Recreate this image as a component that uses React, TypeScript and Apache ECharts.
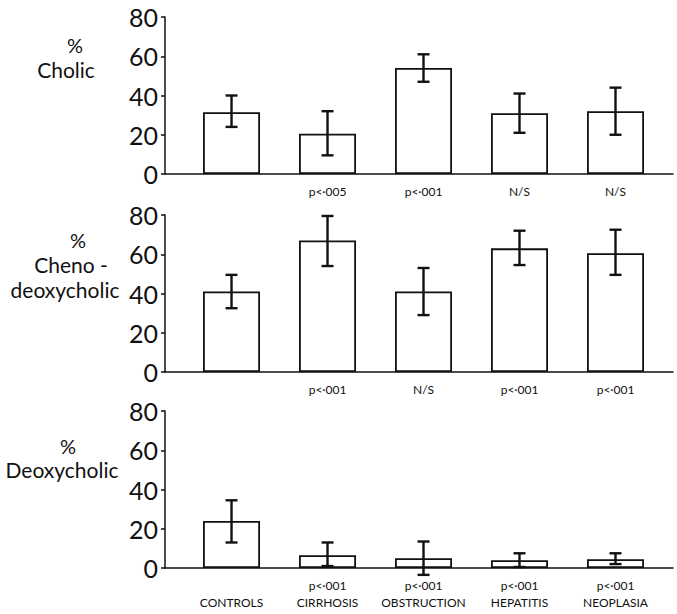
import React, { useEffect, useRef } from "react";
import * as echarts from "echarts";

const categories = ["CONTROLS", "CIRRHOSIS", "OBSTRUCTION", "HEPATITIS", "NEOPLASIA"];
const yTicks = [0, 20, 40, 60, 80];

const cholicMean = [31.5, 20.5, 54, 31, 32];
const cholicLow = [24, 9.5, 47, 21, 20];
const cholicHigh = [40, 32, 61, 41, 44];
const cholicP = ["", "p<·005", "p<·001", "N/S", "N/S"];

const chenoMean = [41, 67, 41, 63, 60.5];
const chenoLow = [32.5, 54, 29, 54.5, 49.5];
const chenoHigh = [49.5, 79.5, 53, 72, 72.5];
const chenoP = ["", "p<·001", "N/S", "p<·001", "p<·001"];

const deoxyMean = [24, 6.5, 5, 4, 4.5];
const deoxyLow = [13, 1, -3.5, 0.5, 2];
const deoxyHigh = [34.5, 13, 13.5, 7.5, 7.5];
const deoxyP = ["", "p<·001", "p<·001", "p<·001", "p<·001"];

const FONT = "Lato";

export default function App() {
  const ref = useRef<HTMLDivElement>(null);
  useEffect(() => {
    if (!ref.current) return;
    const chart = echarts.init(ref.current, null, { renderer: "svg" });

    const panels = [
      { mean: cholicMean, low: cholicLow, high: cholicHigh, p: cholicP, top: 17, withCat: false },
      { mean: chenoMean, low: chenoLow, high: chenoHigh, p: chenoP, top: 215, withCat: false },
      { mean: deoxyMean, low: deoxyLow, high: deoxyHigh, p: deoxyP, top: 411, withCat: true },
    ];

    const grid = panels.map((pn) => ({ left: 165, width: 508, top: pn.top, height: 157 }));
    const xAxis = panels.map((pn, i) => ({
      type: "value",
      gridIndex: i,
      min: -0.693,
      max: 4.599,
      axisLine: { show: true, onZero: false, lineStyle: { color: "#111", width: 1.5 } },
      axisTick: { show: false },
      splitLine: { show: false },
      axisLabel: {
        customValues: categories.map((_, k) => k),
        formatter: (v: number) => {
          const k = Math.round(v);
          return pn.withCat ? pn.p[k] + "\n" + categories[k] : pn.p[k];
        },
        color: "#111",
        fontFamily: FONT,
        fontSize: 12,
        lineHeight: 17,
        margin: 9,
      },
    }));
    const yAxis = panels.map((_, i) => ({
      type: "value",
      gridIndex: i,
      min: yTicks[0],
      max: yTicks[yTicks.length - 1],
      interval: 20,
      axisLine: { show: true, onZero: false, lineStyle: { color: "#111", width: 1.5 } },
      axisTick: { show: true, length: 4, lineStyle: { color: "#111", width: 1.5 } },
      splitLine: { show: false },
      axisLabel: { color: "#111", fontFamily: FONT, fontSize: 25, margin: 7 },
    }));

    const series: any[] = [];
    panels.forEach((pn, i) => {
      series.push({
        type: "bar",
        xAxisIndex: i,
        yAxisIndex: i,
        barWidth: 57,
        data: pn.mean.map((v, k) => [k, v]),
        itemStyle: { color: "#fff", borderColor: "#111", borderWidth: 1.8 },
      });
      series.push({
        type: "custom",
        xAxisIndex: i,
        yAxisIndex: i,
        clip: false,
        z: 5,
        data: pn.mean.map((_, k) => [k, pn.low[k], pn.high[k]]),
        renderItem: (params: any, api: any) => {
          const x = api.value(0);
          const lo = api.coord([x, api.value(1)]);
          const hi = api.coord([x, api.value(2)]);
          const half = 6;
          const style = { stroke: "#111", lineWidth: 2.4 };
          return {
            type: "group",
            children: [
              { type: "line", shape: { x1: lo[0], y1: lo[1], x2: hi[0], y2: hi[1] }, style },
              { type: "line", shape: { x1: hi[0] - half, y1: hi[1], x2: hi[0] + half, y2: hi[1] }, style },
              { type: "line", shape: { x1: lo[0] - half, y1: lo[1], x2: lo[0] + half, y2: lo[1] }, style },
            ],
          };
        },
      });
    });

    const txt = (text: string, x: number, y: number, size = 21, lh = 22) => ({
      type: "text",
      x,
      y,
      style: {
        text,
        fontFamily: FONT,
        fontSize: size,
        lineHeight: lh,
        fill: "#111",
        textAlign: "center",
        textVerticalAlign: "middle",
      },
    });

    chart.setOption({
      animation: false,
      grid,
      xAxis,
      yAxis,
      series,
      graphic: [
        txt("%", 75, 45, 20, 16),
        txt("Cholic", 66, 69),
        txt("%", 78, 240, 20, 16),
        txt("Cheno -", 71, 264),
        txt("deoxycholic", 65, 289),
        txt("%", 68, 446, 20, 16),
        txt("Deoxycholic", 62, 469),
      ],
    });
    return () => chart.dispose();
  }, []);
  return (
    <div
      ref={ref}
      style={{ position: "fixed", left: 0, top: 0, width: 677, height: 614, background: "#fff" }}
    />
  );
}
